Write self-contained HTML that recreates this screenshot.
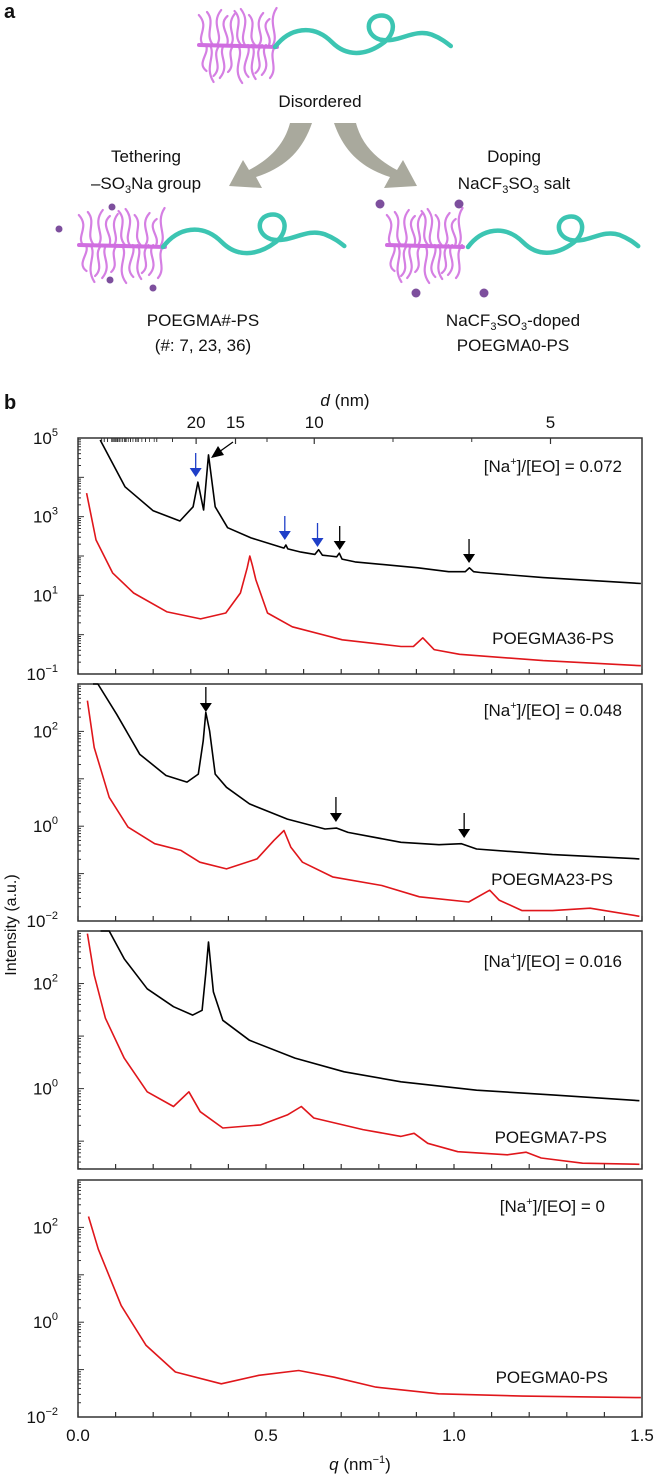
<!DOCTYPE html>
<html><head><meta charset="utf-8">
<style>
html,body{margin:0;padding:0;background:#fff;}
body{width:655px;height:1478px;overflow:hidden;font-family:"Liberation Sans",Arial,sans-serif;}
svg{display:block;}
text{font-family:"Liberation Sans",Arial,sans-serif;fill:#111;}
</style></head>
<body>
<svg id="fig" width="655" height="1478" viewBox="0 0 655 1478" xmlns="http://www.w3.org/2000/svg">
  <text x="4" y="18" font-size="20" font-weight="bold">a</text>
  <text x="4" y="409" font-size="20" font-weight="bold">b</text>
  <g id="schematic">
    <path d="M312,123 C302,152 284,168 256,177 L262,188 L229,186 L243,160 L249,170 C268,160 284,146 290,123 Z" fill="#a9a99d"/>
    <path d="M334,123 C344,152 362,168 390,177 L384,188 L417,186 L403,160 L397,170 C378,160 362,146 356,123 Z" fill="#a9a99d"/>
    <text x="320" y="107" font-size="17" text-anchor="middle">Disordered</text>
    <text x="146" y="162" font-size="17" text-anchor="middle">Tethering</text>
    <text x="146" y="189" font-size="17" text-anchor="middle">–SO<tspan font-size="11" dy="4">3</tspan><tspan dy="-4">Na group</tspan></text>
    <text x="514" y="162" font-size="17" text-anchor="middle">Doping</text>
    <text x="514" y="189" font-size="17" text-anchor="middle">NaCF<tspan font-size="11" dy="4">3</tspan><tspan dy="-4">SO</tspan><tspan font-size="11" dy="4">3</tspan><tspan dy="-4"> salt</tspan></text>
    <text x="203" y="326" font-size="17" text-anchor="middle">POEGMA#-PS</text>
    <text x="203" y="351" font-size="17" text-anchor="middle">(#: 7, 23, 36)</text>
    <text x="513" y="326" font-size="17" text-anchor="middle">NaCF<tspan font-size="11" dy="4">3</tspan><tspan dy="-4">SO</tspan><tspan font-size="11" dy="4">3</tspan><tspan dy="-4">-doped</tspan></text>
    <text x="513" y="351" font-size="17" text-anchor="middle">POEGMA0-PS</text>
  </g>
  <g id="plots"></g>
</svg>
<script>
// ---------- data ----------
const p1BlackQ = [0.059,0.125,0.20,0.271,0.306,0.319,0.334,0.347,0.365,0.398,0.46,0.548,0.553,0.558,0.593,0.630,0.640,0.650,0.67,0.688,0.695,0.702,0.737,0.904,0.986,1.030,1.041,1.052,1.07,1.237,1.497];
const p1BlackL = [4.95,3.76,3.15,2.89,3.25,3.88,3.17,4.57,3.25,2.72,2.46,2.2,2.28,2.18,2.1,2.04,2.16,2.02,2.0,1.98,2.07,1.92,1.85,1.7,1.6,1.6,1.7,1.6,1.58,1.45,1.3];
const p1RedQ = [0.023,0.048,0.092,0.148,0.237,0.326,0.393,0.432,0.450,0.457,0.464,0.473,0.504,0.57,0.703,0.859,0.892,0.917,0.947,1.015,1.237,1.497];
const p1RedL = [3.6,2.41,1.57,1.06,0.58,0.4,0.55,1.06,1.7,2.0,1.75,1.4,0.55,0.2,-0.13,-0.3,-0.3,-0.08,-0.38,-0.5,-0.66,-0.79];
const p2BlackQ = [0.053,0.103,0.164,0.234,0.29,0.32,0.333,0.34,0.35,0.365,0.395,0.456,0.557,0.657,0.688,0.718,0.859,0.96,1.02,1.06,1.262,1.493];
const p2BlackL = [3.0,2.36,1.52,1.07,0.93,1.1,1.8,2.4,2.01,1.1,0.82,0.47,0.15,-0.06,-0.04,-0.13,-0.34,-0.39,-0.37,-0.48,-0.6,-0.69];
const p2RedQ = [0.025,0.043,0.083,0.133,0.204,0.274,0.324,0.395,0.476,0.521,0.548,0.566,0.597,0.677,0.808,0.908,1.039,1.095,1.12,1.181,1.262,1.362,1.493];
const p2RedL = [2.65,1.66,0.61,-0.02,-0.37,-0.51,-0.76,-0.9,-0.69,-0.3,-0.09,-0.44,-0.76,-1.07,-1.25,-1.49,-1.6,-1.35,-1.56,-1.78,-1.78,-1.73,-1.9];
const p3BlackQ = [0.083,0.123,0.184,0.254,0.305,0.33,0.34,0.347,0.355,0.36,0.385,0.456,0.577,0.708,0.859,1.06,1.262,1.493];
const p3BlackL = [3.0,2.47,1.9,1.56,1.4,1.49,2.2,2.79,2.2,1.84,1.3,0.92,0.58,0.32,0.13,-0.03,-0.12,-0.23];
const p3RedQ = [0.025,0.043,0.073,0.123,0.184,0.254,0.295,0.325,0.385,0.486,0.557,0.594,0.627,0.758,0.859,0.894,0.93,1.01,1.142,1.192,1.232,1.342,1.493];
const p3RedL = [2.95,2.16,1.34,0.58,-0.06,-0.34,-0.06,-0.44,-0.75,-0.69,-0.5,-0.34,-0.56,-0.78,-0.91,-0.85,-1.04,-1.2,-1.26,-1.21,-1.32,-1.42,-1.44];
const p4RedQ = [0.028,0.054,0.115,0.181,0.259,0.381,0.481,0.587,0.681,0.792,0.959,1.182,1.497];
const p4RedL = [2.23,1.54,0.35,-0.49,-1.05,-1.3,-1.12,-1.02,-1.16,-1.37,-1.51,-1.56,-1.59];
const xTickValues = [0,0.1,0.2,0.3,0.4,0.5,0.6,0.7,0.8,0.9,1.0,1.1,1.2,1.3,1.4,1.5];
const xTickLabels = ["0.0","0.5","1.0","1.5"];
const dMajor = [20,15,10,5];
const dMinor = [100,90,80,70,60,50,45,40,35,30,25,12.5,7.5,6];
const p1ArrowQ = [0.313,0.55,0.637,0.696,1.04];
const p1ArrowColor = ["blue","blue","blue","black","black"];
const p2ArrowQ = [0.34,0.686,1.027];

// ---------- layout ----------
const X0=78, X1=642;
const xs = q => X0 + q/1.5*(X1-X0);
const panels = [
  {top:438,bottom:674,lt:5,lb:-1,labels:[5,3,1,-1]},
  {top:684,bottom:921,lt:3,lb:-2,labels:[2,0,-2]},
  {top:931,bottom:1169,lt:3,lb:-1.53,labels:[2,0]},
  {top:1180,bottom:1417,lt:3,lb:-2,labels:[2,0,-2]}
];
const NS='http://www.w3.org/2000/svg';
const root=document.getElementById('plots');
function mk(tag,attrs,parent){const e=document.createElementNS(NS,tag);for(const k in attrs)e.setAttribute(k,attrs[k]);(parent||root).appendChild(e);return e;}
function ysFor(p){return l => p.top + (p.lt-l)/(p.lt-p.lb)*(p.bottom-p.top);}

panels.forEach((p,i)=>{
  const g=mk('g',{});
  
  
  const ys=ysFor(p);
  const fr=mk('rect',{x:X0,y:p.top,width:X1-X0,height:p.bottom-p.top,fill:'none',stroke:'#333',"stroke-width":1.5},g);
  
  
  xTickValues.forEach(v=>{
    const t=mk('line',{x1:xs(v),x2:xs(v),y1:p.bottom,y2:p.bottom-5,stroke:'#333',"stroke-width":1.2},g);
    
    
  });
  for(let d=Math.floor(p.lb);d<=Math.ceil(p.lt);d++){
    for(let m=1;m<10;m++){
      const l=d+Math.log10(m);
      if(l>p.lt+1e-6||l<p.lb-1e-6)continue;
      const y=ys(l);
      const len=m===1?6:3;
      const t=mk('line',{x1:X0,x2:X0+len,y1:y,y2:y,stroke:'#333',"stroke-width":1},g);
      
      
    }
  }
  p.labels.forEach(l=>{
    const t=mk('text',{x:58,y:ys(l)+6,"font-size":17,"text-anchor":"end"},g);
    
    
    t.appendChild(document.createTextNode('10'));
    const s=mk('tspan',{"font-size":11,dy:-8},t);
    s.textContent=String(l).replace('-','−');
  });
});

function series(q,l,p,color,name){
  const ys=ysFor(p);
  let d='';
  q.forEach((v,i)=>{let y=Math.max(p.top,Math.min(p.bottom,ys(l[i])));d+=(i?'L':'M')+xs(v).toFixed(1)+','+y.toFixed(1);});
  const e=mk('path',{d:d,fill:'none',stroke:color,"stroke-width":1.6,"stroke-linejoin":"round"});
  
  
}
series(p1BlackQ,p1BlackL,panels[0],'#000','series-p1-black');
series(p1RedQ,p1RedL,panels[0],'#e0161b','series-p1-red');
series([0.04].concat(p2BlackQ),[3.6].concat(p2BlackL),panels[1],'#000','series-p2-black');
series(p2RedQ,p2RedL,panels[1],'#e0161b','series-p2-red');
series([0.06].concat(p3BlackQ),[3.6].concat(p3BlackL),panels[2],'#000','series-p3-black');
series(p3RedQ,p3RedL,panels[2],'#e0161b','series-p3-red');
series(p4RedQ,p4RedL,panels[3],'#e0161b','series-p4-red');

function arrow(x,y1,y2,color,name){
  const c=color==='blue'?'#1f3fc8':'#000';
  const g=mk('g',{});
  
  
  mk('line',{x1:x,x2:x,y1:y1,y2:y2-6,stroke:c,"stroke-width":1.3},g);
  mk('path',{d:`M${x-6},${y2-9}L${x+6},${y2-9}L${x},${y2}Z`,fill:c},g);
}
const p1ArrowTip=[477,540,547,550,563];
p1ArrowQ.forEach((q,i)=>arrow(xs(q),p1ArrowTip[i]-24,p1ArrowTip[i],p1ArrowColor[i],'peak-arrow'));
const p2ArrowTip=[712,822,838];
p2ArrowQ.forEach((q,i)=>arrow(xs(q),p2ArrowTip[i]-25,p2ArrowTip[i],'black','peak-arrow'));
{const g=mk('g',{});


mk('line',{x1:233,y1:442,x2:219,y2:452,stroke:'#000',"stroke-width":1.3},g);
mk('path',{d:'M211,458L218,446L224,455Z',fill:'#000'},g);}

dMajor.forEach(d=>{
  const x=xs(2*Math.PI/d);
  const t=mk('line',{x1:x,x2:x,y1:438,y2:444,stroke:'#333',"stroke-width":1.2});
  
  
  const lb=mk('text',{x:x,y:428,"font-size":17,"text-anchor":"middle"});
  
  
  lb.textContent=d;
});
dMinor.forEach(d=>{
  const x=xs(2*Math.PI/d);
  const t=mk('line',{x1:x,x2:x,y1:438,y2:442,stroke:'#333',"stroke-width":1});
  
  
});
for(let d=31;d<=70;d+=2){const x=xs(2*Math.PI/d);const t=mk('line',{x1:x,x2:x,y1:438,y2:442,stroke:'#333',"stroke-width":0.8});

}
{const t=mk('text',{x:345,y:406,"font-size":17,"text-anchor":"middle"});


t.innerHTML='<tspan font-style="italic">d</tspan> (nm)';}

xTickLabels.forEach((s,i)=>{
  const t=mk('text',{x:xs(i*0.5),y:1441,"font-size":17,"text-anchor":"middle"});
  
  
  t.textContent=s;
});
{const t=mk('text',{x:360,y:1470,"font-size":17,"text-anchor":"middle"});


t.innerHTML='<tspan font-style="italic">q</tspan> (nm<tspan font-size="11" dy="-7">−1</tspan><tspan dy="7">)</tspan>';}
{const t=mk('text',{x:0,y:0,"font-size":16,"text-anchor":"middle",transform:'translate(16,925) rotate(-90)'});


t.textContent='Intensity (a.u.)';}

const ratioLabels=['0.072','0.048','0.016','0'];
const ratioY=[472,716,967,1212];
const ratioX=[622,622,622,605];
ratioLabels.forEach((r,i)=>{
  const t=mk('text',{x:ratioX[i],y:ratioY[i],"font-size":17,"text-anchor":"end"});
  
  
  t.innerHTML='[Na<tspan font-size="11" dy="-7">+</tspan><tspan dy="7">]/[EO] = '+r+'</tspan>';
});
const sampleLabels=['POEGMA36-PS','POEGMA23-PS','POEGMA7-PS','POEGMA0-PS'];
const sampleY=[644,885,1143,1383];
const sampleX=[614,613,607,608];
sampleLabels.forEach((s,i)=>{
  const t=mk('text',{x:sampleX[i],y:sampleY[i],"font-size":17,"text-anchor":"end"});
  
  
  t.textContent=s;
});

// ---------- schematic polymers ----------
const sch=document.getElementById('schematic');
function brush(cx,cy,w,name){
  const g=mk('g',{},sch);
  
  
  const n=11;
  for(let i=0;i<n;i++){
    const x=cx-w/2+ i*w/(n-1);
    const up=i%2===0?1:-1;
    const len=30+((i*7)%9);
    const y0=cy, y1=cy-up*len;
    const a=7*((i%3)-1)||6;
    mk('path',{d:`M${x},${y0} C${x+a},${y0-up*len*0.3} ${x-a},${y0-up*len*0.6} ${x+a*0.6},${y1}`,fill:'none',stroke:'#d57fe3',"stroke-width":2.2,"stroke-linecap":"round"},g);
    const y2=cy+up*(len-4);
    mk('path',{d:`M${x+3},${y0} C${x-a},${y0+up*len*0.3} ${x+a},${y0+up*len*0.6} ${x-a*0.5},${y2}`,fill:'none',stroke:'#d57fe3',"stroke-width":2.2,"stroke-linecap":"round"},g);
  }
  mk('path',{d:`M${cx-w/2-4},${cy} L${cx+w/2+4},${cy+2}`,stroke:'#d06ee0',"stroke-width":4,"stroke-linecap":"round"},g);
}
function tail(x0,y0,s,name){
  const e=mk('path',{d:`M${x0},${y0} c${15*s},${-20*s} ${40*s},${-25*s} ${60*s},${-5*s} c${15*s},${15*s} ${35*s},${15*s} ${55*s},${0} c${15*s},${-12*s} ${10*s},${-30*s} ${-5*s},${-28*s} c${-15*s},${2*s} ${-15*s},${20*s} ${0},${25*s} c${20*s},${5*s} ${35*s},${-12*s} ${55*s},${-5*s} c${10*s},${4*s} ${15*s},${8*s} ${20*s},${12*s}`,fill:'none',stroke:'#3cc5b2',"stroke-width":4.5,"stroke-linecap":"round"},sch);
  
  
}
brush(238,45,70,'brush-disordered');
tail(275,47,0.95,'ps-tail-disordered');
brush(122,245,78,'brush-tethered');
tail(163,247,0.98,'ps-tail-tethered');
brush(425,245,68,'brush-doped');
tail(468,247,0.92,'ps-tail-doped');
const dots=[[112,207],[59,229],[110,280],[153,288],[380,204],[459,204],[416,293],[484,293]];
dots.forEach(d=>{const c=mk('circle',{cx:d[0],cy:d[1],r:d[0]<200?3.5:4.5,fill:'#7d4f9d'},sch);

});
</script>
</body></html>
